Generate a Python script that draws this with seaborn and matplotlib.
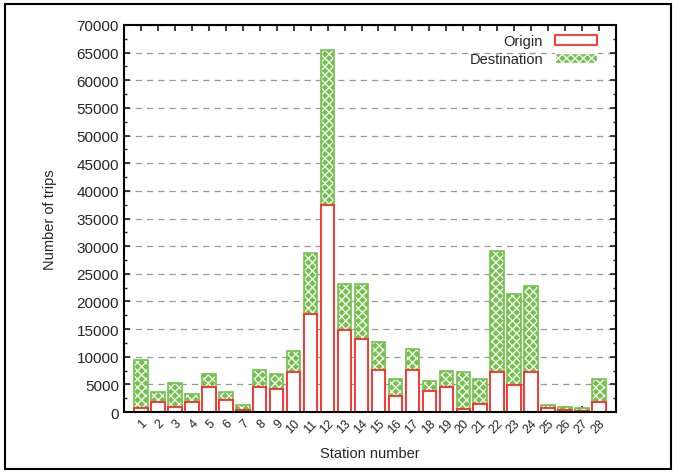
import numpy as np
import pandas as pd
import seaborn as sns
import matplotlib.pyplot as plt
from matplotlib.patches import Patch, Rectangle
from matplotlib.ticker import MultipleLocator

sns.set_theme(style="ticks")
plt.rcParams['font.family'] = ['Liberation Sans', 'DejaVu Sans']
plt.rcParams['hatch.linewidth'] = 0.9

RED = '#ff2a2a'
GREEN = '#74c14e'

# trips per station
stations = list(range(1, 29))
origin = [700, 1900, 1000, 1900, 4500, 2200, 300, 4500, 4200, 7200,
          17800, 37400, 14800, 13300, 7700, 2900, 7600, 3800, 4600, 550,
          1450, 7200, 4900, 7300, 650, 300, 200, 1750]
total = [9500, 3700, 5250, 3300, 6800, 3700, 1300, 7600, 6800, 11000,
         28800, 65500, 23200, 23200, 12750, 6000, 11400, 5600, 7500, 7200,
         6000, 29100, 21300, 22800, 1270, 960, 720, 6000]

df = pd.DataFrame({'station': stations, 'origin': origin, 'total': total})

fig = plt.figure(figsize=(6.81, 4.77), dpi=100)
ax = fig.add_axes([0.182, 0.134, 0.7226, 0.8115])

# destination stacked on origin: draw full height hatched, then origin on top
sns.barplot(data=df, x='station', y='total', native_scale=True, orient='x',
            color=GREEN, saturation=1, errorbar=None, width=0.8,
            edgecolor='white', hatch='xxxx', linewidth=0, ax=ax)
sns.barplot(data=df, x='station', y='total', native_scale=True, orient='x',
            color=GREEN, saturation=1, errorbar=None, width=0.8,
            fill=False, linewidth=1.2, ax=ax)
sns.barplot(data=df, x='station', y='origin', native_scale=True, orient='x',
            color='white', saturation=1, errorbar=None, width=0.8,
            edgecolor=RED, linewidth=1.3, ax=ax)

ax.set_xlim(0, 29)
ax.set_ylim(0, 70000)
ax.yaxis.set_major_locator(MultipleLocator(5000))
ax.yaxis.set_minor_locator(MultipleLocator(2500))
ax.set_xticks(stations)
ax.set_xticklabels([str(s) for s in stations], rotation=45, ha='right',
                   fontsize=9, rotation_mode='anchor')
ax.tick_params(axis='y', labelsize=11)
ax.tick_params(which='both', direction='in', top=True, right=True, length=4)
ax.tick_params(which='minor', length=2)
ax.yaxis.grid(True, which='major', linestyle=(0, (5, 4)), color='#999999',
              linewidth=0.9)
ax.set_axisbelow(True)
for sp in ax.spines.values():
    sp.set_linewidth(1.5)
    sp.set_color('black')

ax.set_xlabel('Station number', fontsize=10.5, labelpad=8)
ax.set_ylabel('Number of trips', fontsize=10.5, labelpad=14)

handles = [Patch(facecolor='white', edgecolor=RED, linewidth=1.3, label='Origin'),
           Patch(facecolor=GREEN, edgecolor='white', hatch='xxxx', label='Destination')]
ax.legend(handles=handles, loc='upper right', bbox_to_anchor=(0.97, 0.987),
          frameon=False, markerfirst=False,
          fontsize=10.5, handlelength=2.9, handleheight=0.7,
          borderaxespad=0.0, borderpad=0.3, labelspacing=0.25)

fig.patches.append(Rectangle((0.007, 0.015), 0.978, 0.975, transform=fig.transFigure,
                             fill=False, edgecolor='black', linewidth=1.5))

fig.savefig('out.png', dpi=100)
